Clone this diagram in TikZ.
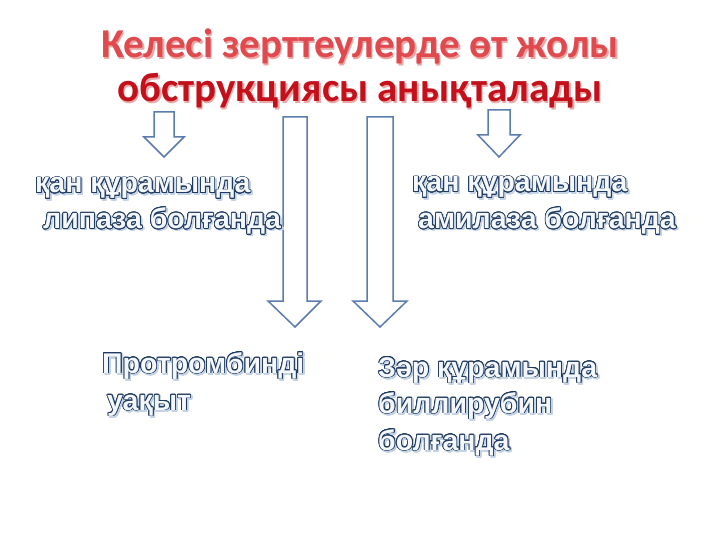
\documentclass[tikz,border=0pt]{standalone}
\usepackage{fontspec}
\usepackage{contour}
\setmainfont{Liberation Sans}
\newfontfamily\titlefont{Carlito}
\newfontfamily\widefont{Liberation Sans}
\definecolor{arrowblue}{HTML}{5A7CAE}
\definecolor{navyline}{HTML}{1F3A60}
\definecolor{fillblue}{HTML}{F4F8FD}
\definecolor{shadowblue}{HTML}{C4D2E6}
\definecolor{titleredA}{HTML}{E04A4E}
\definecolor{titleredB}{HTML}{C3101A}
\definecolor{titleshadow}{HTML}{E8A8A8}
\contournumber{20}
\newcommand\outlinetext[1]{\contourlength{0.75pt}{\color{fillblue}\contour{navyline}{#1}}}
\newcommand\shadowtext[1]{\contourlength{0.9pt}{\color{shadowblue}\contour{shadowblue}{#1}}}
\tikzset{
  hollow/.style={draw=arrowblue, line width=1.5pt, fill=white, line join=miter},
  lbl/.style={anchor=base west, inner sep=0pt, font=\widefont\bfseries\fontsize{28.5}{34}\selectfont},
  ttl/.style={anchor=base, inner sep=0pt, font=\titlefont\bfseries\fontsize{41}{48}\selectfont},
}
\begin{document}
\begin{tikzpicture}[x=1pt,y=-1pt]
\useasboundingbox (0,0) rectangle (720,540);
\fill[white] (0,0) rectangle (720,540);
% title
\node[ttl, text=titleshadow] (t1s) at (361.5,59.5) {Келесі зерттеулерде өт жолы};
\node[ttl, text=titleredA] (t1) at (360,57.5) {Келесі зерттеулерде өт жолы};
\node[ttl, text=titleshadow] (t2s) at (361.5,104) {обструкциясы анықталады};
\node[ttl, text=titleredB] (t2) at (360,102) {обструкциясы анықталады};
% arrows
\draw[hollow] (154,112) -- (174,112) -- (174,137) -- (184,137) -- (164,157) -- (144,137) -- (154,137) -- cycle;
\draw[hollow] (283,117) -- (307,117) -- (307,301) -- (321,301) -- (295,327) -- (268,301) -- (283,301) -- cycle;
\draw[hollow] (367,117) -- (393,117) -- (393,301) -- (407,301) -- (380,327) -- (353,301) -- (367,301) -- cycle;
\draw[hollow] (488,110) -- (510,110) -- (510,135) -- (520,135) -- (499,157) -- (478,135) -- (488,135) -- cycle;
% left top
\node[lbl] (a1s) at (36.5,194.5) {\shadowtext{қан құрамында}};
\node[lbl] (a1) at (35,193) {\outlinetext{қан құрамында}};
\node[lbl] (a2s) at (44.5,230) {\shadowtext{липаза болғанда}};
\node[lbl] (a2) at (43,228.5) {\outlinetext{липаза болғанда}};
% right top
\node[lbl] (b1s) at (413.5,193.5) {\shadowtext{қан құрамында}};
\node[lbl] (b1) at (412,192) {\outlinetext{қан құрамында}};
\node[lbl] (b2s) at (419.5,230) {\shadowtext{амилаза болғанда}};
\node[lbl] (b2) at (418,228.5) {\outlinetext{амилаза болғанда}};
% bottom left
\node[lbl] (c1s) at (103.5,374.5) {\shadowtext{Протромбинді}};
\node[lbl] (c1) at (102,373) {\outlinetext{Протромбинді}};
\node[lbl] (c2s) at (108.5,411.5) {\shadowtext{уақыт}};
\node[lbl] (c2) at (107,410) {\outlinetext{уақыт}};
% bottom right
\node[lbl] (d1s) at (379.5,378.5) {\shadowtext{Зәр құрамында}};
\node[lbl] (d1) at (378,377) {\outlinetext{Зәр құрамында}};
\node[lbl] (d2s) at (379.5,414.5) {\shadowtext{биллирубин}};
\node[lbl] (d2) at (378,413) {\outlinetext{биллирубин}};
\node[lbl] (d3s) at (379.5,451.5) {\shadowtext{болғанда}};
\node[lbl] (d3) at (378,450) {\outlinetext{болғанда}};
\end{tikzpicture}
\end{document}
